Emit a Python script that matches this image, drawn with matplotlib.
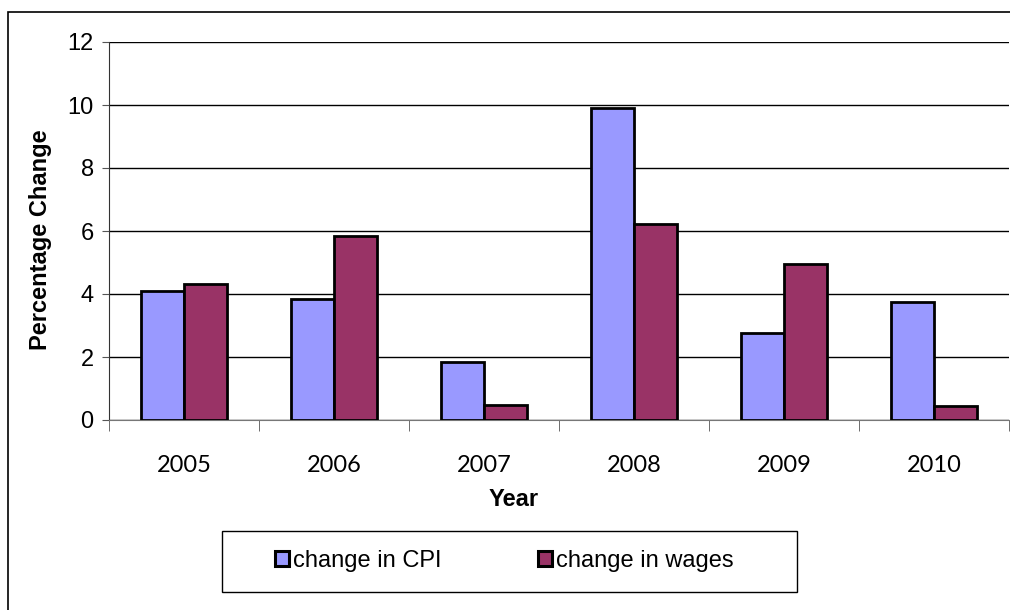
import matplotlib.pyplot as plt
import numpy as np
from matplotlib.patches import Rectangle

plt.rcParams["font.family"] = ["Liberation Sans", "DejaVu Sans"]

years = ["2005", "2006", "2007", "2008", "2009", "2010"]
cpi = [4.1, 3.83, 1.85, 9.9, 2.75, 3.75]
wages = [4.33, 5.84, 0.48, 6.22, 4.94, 0.44]

W, H = 1010, 610
fig = plt.figure(figsize=(W / 100, H / 100), dpi=100)
# outer chart border (runs off the right and bottom edges)
fig.patches.append(Rectangle((8 / W, -0.05), 1.0, 1.05 - 12 / H,
                             transform=fig.transFigure, fill=False,
                             edgecolor="black", linewidth=1.2))
# legend frame
fig.patches.append(Rectangle((222 / W, 18 / H), 575 / W, 61 / H,
                             transform=fig.transFigure, fill=False,
                             edgecolor="black", linewidth=1.0))

ax = fig.add_axes([109 / W, 190 / H, 900 / W, 378 / H])

x = np.arange(len(years))
w = 0.287
ax.bar(x - w / 2, cpi, w, color="#9999FF", edgecolor="black", linewidth=2,
       label="change in CPI", zorder=3)
ax.bar(x + w / 2, wages, w, color="#993366", edgecolor="black", linewidth=2,
       label="change in wages", zorder=3)

ax.set_xlim(-0.5, len(years) - 0.5)
ax.set_ylim(0, 12)
ax.set_yticks(range(0, 13, 2))
ax.yaxis.grid(True, color="black", linewidth=1)
ax.set_axisbelow(True)

ax.set_xticks(x)
ax.set_xticklabels(years, fontsize=17, family=["Lato", "DejaVu Sans"])
ax.tick_params(axis="x", length=0, pad=25)
ax.set_xticks(np.arange(-0.5, len(years) + 0.5), minor=True)
ax.tick_params(axis="x", which="minor", length=8, color="#555555")
ax.tick_params(axis="y", labelsize=17, length=5, color="#555555", pad=6)

for s in ["top", "right"]:
    ax.spines[s].set_visible(False)
ax.spines["left"].set_color("#333333")
ax.spines["bottom"].set_color("#777777")

fig.text(514 / W, 1 - 500 / H, "Year", ha="center", va="center",
         fontsize=17, fontweight="bold")
fig.text(41 / W, 1 - 240 / H, "Percentage Change", ha="center", va="center",
         rotation=90, fontsize=17, fontweight="bold")

leg = fig.legend(loc="center", bbox_to_anchor=(504 / W, 1 - 561 / H), ncol=2,
                 fontsize=17, frameon=False, handlelength=0.6,
                 handleheight=0.6, handletextpad=0.15, columnspacing=4.1,
                 borderpad=0)
for h in leg.get_patches():
    h.set_linewidth(2.2)

fig.savefig("out.png", dpi=100)
